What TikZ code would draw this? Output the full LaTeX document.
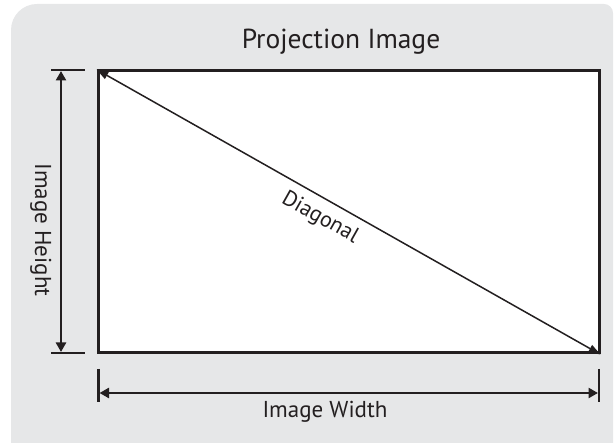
\documentclass[tikz,border=0pt]{standalone}
\usepackage{fontspec}
\setmainfont{PT Sans}
\usetikzlibrary{arrows.meta}
\definecolor{bg}{HTML}{E6E7E8}
\definecolor{ink}{HTML}{231F20}
\begin{document}
\begin{tikzpicture}[x=1pt,y=-1pt,
  dimline/.style={draw=ink,line width=2.4pt,{Triangle[length=9.5pt,width=10pt]}-{Triangle[length=9.5pt,width=10pt]}},
  tickline/.style={draw=ink,line width=2.2pt},
  diagline/.style={draw=ink,line width=1.5pt,{Triangle[length=12pt,width=8pt]}-{Triangle[length=12pt,width=8pt]}},
  screenbox/.style={draw=ink,fill=white,line width=3pt,minimum width=501pt,minimum height=282pt,inner sep=0pt},
  lbl/.style={text=ink,inner sep=0pt,font=\fontsize{23}{26}\selectfont},
  titlelbl/.style={text=ink,inner sep=0pt,font=\fontsize{27.5}{32}\selectfont}]
\useasboundingbox (0,0) rectangle (614,443);
% background panel
\fill[bg] (11,443) [rounded corners=26pt] -- (11,4) [rounded corners=9pt] -- (613,4) [sharp corners] -- (613,443) -- cycle;
% screen
\node[screenbox] (screen) at (348.5,212) {};
% title
\node[titlelbl,anchor=base] (title) at (341,49) {Projection Image};
% diagonal
\draw[diagline] (screen.north west) -- (screen.south east);
\node[lbl,font=\fontsize{22}{24}\selectfont,rotate=-29.4] (diag) at (320,218) {Diagonal};
% height dimension
\coordinate (htl) at (51,70);
\coordinate (htr) at (85,70);
\coordinate (hbl) at (51,353);
\coordinate (hbr) at (85,353);
\coordinate (ha) at (61,71);
\coordinate (hb) at (61,352);
\draw[tickline] (htl) -- (htr);
\draw[tickline] (hbl) -- (hbr);
\draw[dimline] (ha) -- (hb);
\node[lbl,rotate=-90,anchor=base] (hlabel) at (35,230) {Image Height};
% width dimension
\coordinate (wlt) at (98.5,369);
\coordinate (wlb) at (98.5,402);
\coordinate (wrt) at (599,369);
\coordinate (wrb) at (599,402);
\coordinate (wa) at (99.5,393);
\coordinate (wb) at (598,393);
\draw[tickline] (wlt) -- (wlb);
\draw[tickline] (wrt) -- (wrb);
\draw[dimline] (wa) -- (wb);
\node[lbl,anchor=base] (wlabel) at (325,418) {Image Width};
\end{tikzpicture}
\end{document}
